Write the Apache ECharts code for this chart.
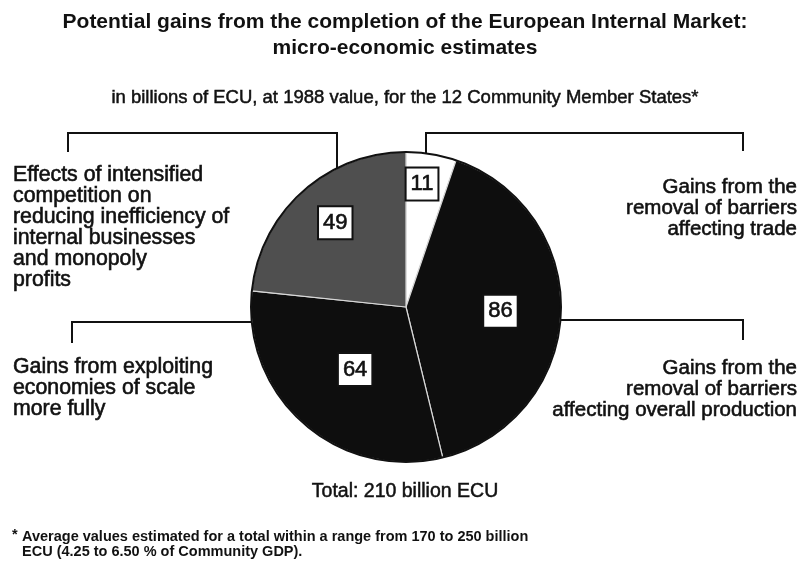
<!DOCTYPE html>
<html>
<head>
<meta charset="utf-8">
<script src="https://cdn.jsdelivr.net/npm/echarts@6/dist/echarts.min.js"></script>
<style>
html,body{margin:0;padding:0;background:#fff;}
#chart{width:810px;height:563px;}
</style>
</head>
<body>
<div id="chart"></div>
<script>
// ---- data ----
const categories = [
  'Gains from the removal of barriers affecting trade',
  'Gains from the removal of barriers affecting overall production',
  'Gains from exploiting economies of scale more fully',
  'Effects of intensified competition on reducing inefficiency of internal businesses and monopoly profits'
];
const values = [11, 86, 64, 49];
const sliceColors = ['#ffffff', '#0e0e0e', '#0e0e0e', '#4f4f4f'];
const labelRadiusFrac = [0.80, 0.61, 0.52, 0.71];
const labelAngleShift = [-2, 0, -2, 2];

const titleLines = ['Potential gains from the completion of the European Internal Market:', 'micro-economic estimates'];
const subtitle = 'in billions of ECU, at 1988 value, for the 12 Community Member States*';
const totalText = 'Total: 210 billion ECU';
const footnoteMark = '*';
const footnote = ['Average values estimated for a total within a range from 170 to 250 billion', 'ECU (4.25 to 6.50 % of Community GDP).'];
const leftTop = ['Effects of intensified', 'competition on', 'reducing inefficiency of', 'internal businesses', 'and monopoly', 'profits'];
const leftBottom = ['Gains from exploiting', 'economies of scale', 'more fully'];
const rightTop = ['Gains from the', 'removal of barriers', 'affecting trade'];
const rightBottom = ['Gains from the', 'removal of barriers', 'affecting overall production'];

// ---- layout ----
const W = 810, H = 563;
const cx = 406, cy = 307, R = 155;
const FONT = '"Liberation Sans", Arial, Helvetica, sans-serif';
const ink = '#111';

function edgeY(x) { return cy - Math.sqrt(R * R - (x - cx) * (x - cx)); }
function edgeXRight(y) { return cx + Math.sqrt(R * R - (y - cy) * (y - cy)); }
function edgeXLeft(y) { return cx - Math.sqrt(R * R - (y - cy) * (y - cy)); }

const lineStyle = { stroke: ink, lineWidth: 2, fill: null };
function poly(points) {
  return { type: 'polyline', shape: { points: points }, style: lineStyle, z: 10 };
}
function textBlock(lines, x, y, align, lh, size, weight, thick) {
  return {
    type: 'text', x: x, y: y, z: 10,
    style: {
      text: lines.join('\n'), font: (weight || 'normal') + ' ' + size + 'px ' + FONT,
      fill: ink, textAlign: align, textVerticalAlign: 'top', lineHeight: lh,
      stroke: thick ? ink : null, lineWidth: thick || 0
    }
  };
}

const yTop = 133;
const graphics = [
  // brackets
  poly([[68, 152], [68, yTop], [337, yTop], [337, edgeY(337)]]),
  poly([[426, edgeY(426)], [426, yTop], [743, yTop], [743, 151]]),
  poly([[edgeXRight(320), 320], [743, 320], [743, 340]]),
  poly([[72, 343], [72, 322], [edgeXLeft(322), 322]]),
  // titles
  textBlock(titleLines, W / 2, 9, 'center', 26, 21, 'bold'),
  textBlock([subtitle], W / 2, 88, 'center', 20, 18.5, 'normal', 0.5),
  textBlock(leftTop, 13, 164.5, 'left', 21, 21.3, 'normal', 0.6),
  textBlock(leftBottom, 13, 356.5, 'left', 21, 21.3, 'normal', 0.6),
  textBlock(rightTop, 797, 176.5, 'right', 21, 20.5, 'normal', 0.6),
  textBlock(rightBottom, 797, 357.5, 'right', 21, 20.5, 'normal', 0.6),
  textBlock([totalText], W / 2, 482, 'center', 20, 19.5, 'normal', 0.5),
  textBlock([footnoteMark], 12, 528, 'left', 14.5, 14.5, 'bold'),
  textBlock(footnote, 22, 530, 'left', 14.5, 14.5, 'bold')
];

// mid-angles (clockwise from top, degrees) computed from the values
const total = values.reduce((a, b) => a + b, 0);
const midAngles = [];
let acc = 0;
values.forEach(v => { midAngles.push((acc + v / 2) / total * 360); acc += v; });

const chart = echarts.init(document.getElementById('chart'), null, { renderer: 'canvas' });
chart.setOption({
  backgroundColor: '#fff',
  animation: false,
  series: [{
    type: 'pie',
    center: [cx, cy],
    radius: [0, R],
    startAngle: 90,
    clockwise: true,
    silent: true,
    data: values.map((v, i) => ({
      name: categories[i], value: v,
      itemStyle: { color: sliceColors[i] }
    })),
    itemStyle: { borderColor: '#d8d8d8', borderWidth: 1.2 },
    label: {
      show: true, position: 'inside', formatter: '{c}',
      fontFamily: FONT, fontSize: 22, fontWeight: 'normal', color: '#111',
      textBorderColor: '#111', textBorderWidth: 0.6,
      backgroundColor: '#fff', borderColor: '#111', borderWidth: 2,
      padding: [4, 4, 3, 4], lineHeight: 24
    },
    labelLayout: function (p) {
      const i = p.dataIndex;
      const a = (midAngles[i] + labelAngleShift[i]) * Math.PI / 180;
      const r = labelRadiusFrac[i] * R;
      return { x: cx + r * Math.sin(a), y: cy - r * Math.cos(a), align: 'center', verticalAlign: 'middle' };
    },
    labelLine: { show: false }
  }, {
    type: 'pie',
    center: [cx, cy],
    radius: [R - 1, R + 1],
    silent: true,
    label: { show: false }, labelLine: { show: false },
    data: [{ value: 1, itemStyle: { color: '#111' } }]
  }],
  graphic: graphics
});
</script>
</body>
</html>
